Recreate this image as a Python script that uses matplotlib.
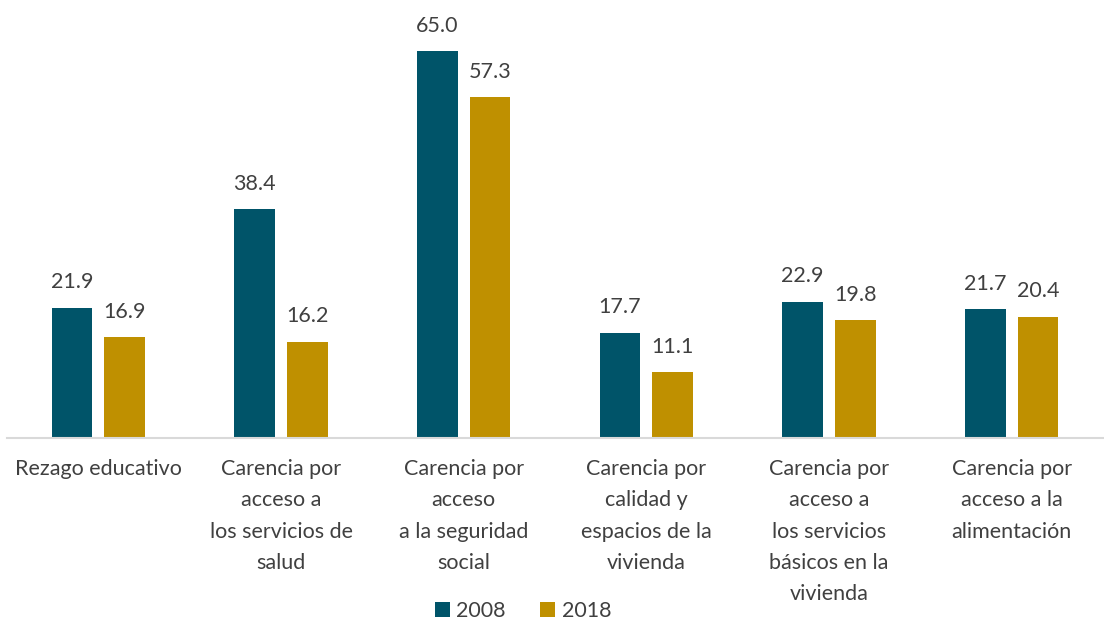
import numpy as np
import matplotlib.pyplot as plt

categories = [
    "Rezago educativo",
    "Carencia por\nacceso a\nlos servicios de\nsalud",
    "Carencia por\nacceso\na la seguridad\nsocial",
    "Carencia por\ncalidad y\nespacios de la\nvivienda",
    "Carencia por\nacceso a\nlos servicios\nbásicos en la\nvivienda",
    "Carencia por\nacceso a la\nalimentación",
]
values_2008 = [21.9, 38.4, 65.0, 17.7, 22.9, 21.7]
values_2018 = [16.9, 16.2, 57.3, 11.1, 19.8, 20.4]
series_names = ["2008", "2018"]

plt.rcParams['font.family'] = ['Lato', 'DejaVu Sans']
text_color = '#404040'
fs = 15.5

fig = plt.figure(figsize=(11.04, 6.22), dpi=100)
ax = fig.add_axes([7 / 1104, 1 - 438 / 622, 1096 / 1104, 416.7 / 622])

x = np.arange(len(categories))
w = 0.223
off = 0.144
b1 = ax.bar(x - off, values_2008, w, color='#005469', label=series_names[0])
b2 = ax.bar(x + off, values_2018, w, color='#BF9000', label=series_names[1])

for bars in (b1, b2):
    ax.bar_label(bars, fmt='%.1f', padding=11, fontsize=fs, color=text_color)

ax.set_xlim(-0.5, len(categories) - 0.5)
ax.set_ylim(0, 70)
ax.set_yticks([])
ax.set_xticks(x)
ax.set_xticklabels(categories, fontsize=fs, color=text_color, linespacing=1.71, va='top')
ax.tick_params(axis='x', length=0, pad=15)

for s in ['top', 'right', 'left']:
    ax.spines[s].set_visible(False)
ax.spines['bottom'].set_color('#d9d9d9')
ax.spines['bottom'].set_linewidth(1.5)

leg = fig.legend(loc='center', bbox_to_anchor=(523 / 1104, 1 - 611 / 622), ncol=2,
                 frameon=False, fontsize=fs, handlelength=0.7, handleheight=0.7,
                 handletextpad=0.3, columnspacing=1.6)
for t in leg.get_texts():
    t.set_color(text_color)

fig.savefig('out.png', dpi=100)
